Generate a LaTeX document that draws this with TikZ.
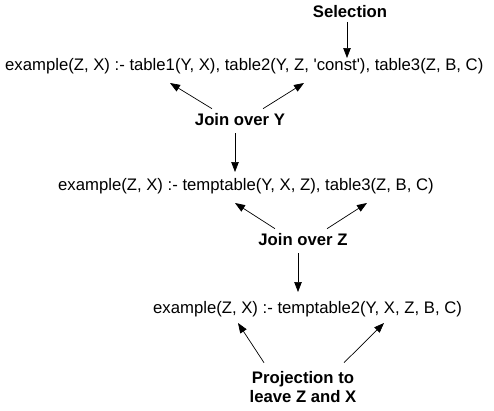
\documentclass[tikz,border=0pt]{standalone}
\usepackage{fontspec}
\setmainfont{Liberation Sans}[Ligatures=TeXOff]
\usetikzlibrary{arrows.meta}
\begin{document}
\begin{tikzpicture}[x=1pt,y=-1pt,
  expr/.style={font=\fontsize{16.7}{19}\selectfont, inner sep=0pt},
  lbl/.style={font=\fontsize{16.7}{19}\selectfont\bfseries, inner sep=0pt, align=center},
  arr/.style={-{Triangle[length=10pt,width=7.5pt]}, line width=0.7pt}]
\useasboundingbox (0,0) rectangle (494,410);

% rule bodies
\node[expr, anchor=base west] (e1) at (5,70)
  {example(Z, X) :- table1(Y, X), table2(Y, Z, 'const'), table3(Z, B, C)};
\node[expr, anchor=base west] (e2) at (58,190)
  {example(Z, X) :- temptable(Y, X, Z), table3(Z, B, C)};
\node[expr, anchor=base west] (e3) at (153,313)
  {example(Z, X) :- temptable2(Y, X, Z, B, C)};

% operation labels
\node[lbl, anchor=base] (sel) at (350,17.5) {Selection};
\node[lbl, anchor=base] (jy) at (240,125) {Join over Y};
\node[lbl, anchor=base] (jz) at (303,245) {Join over Z};
\node[lbl] (proj) at (303,387.5) {Projection to\\leave Z and X};

% arrow targets inside the rule texts
\coordinate (c1) at (347,58);
\coordinate (t1) at (170,83);
\coordinate (t2) at (304,83);
\coordinate (d1) at (235,172);
\coordinate (t3) at (235,203);
\coordinate (t4) at (367,203);
\coordinate (d2) at (298,292);
\coordinate (t5) at (238,323);
\coordinate (t6) at (384,323);

% connectors
\draw[arr] ([xshift=-3pt,yshift=-4pt]sel.south) -- (c1);
\draw[arr] ([xshift=-28pt,yshift=4pt]jy.north) -- (t1);
\draw[arr] ([xshift=23pt,yshift=4pt]jy.north) -- (t2);
\draw[arr] ([xshift=-5pt,yshift=-8pt]jy.south) -- (d1);
\draw[arr] ([xshift=-28pt,yshift=4pt]jz.north) -- (t3);
\draw[arr] ([xshift=24pt,yshift=4pt]jz.north) -- (t4);
\draw[arr] ([xshift=-5pt,yshift=-8pt]jz.south) -- (d2);
\draw[arr] ([xshift=-39pt,yshift=9pt]proj.north) -- (t5);
\draw[arr] ([xshift=41pt,yshift=9pt]proj.north) -- (t6);
\end{tikzpicture}
\end{document}
